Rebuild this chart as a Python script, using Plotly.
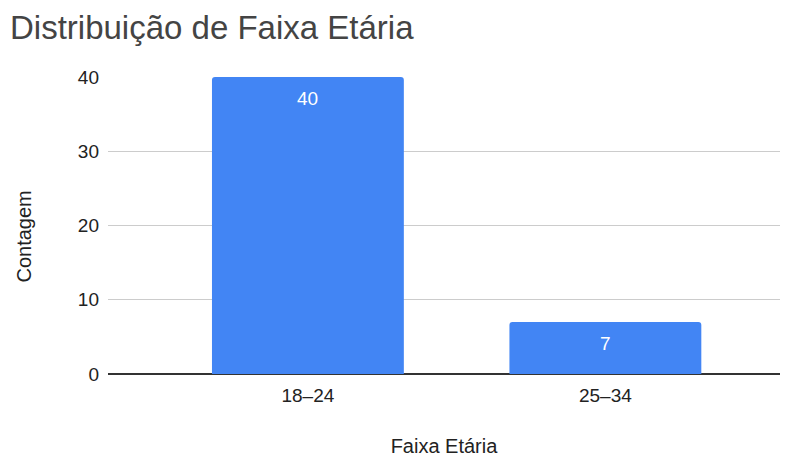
import plotly.graph_objects as go

categories = ["18–24", "25–34"]
counts = [40, 7]
y_ticks = [0, 10, 20, 30, 40]

FONT = "Liberation Sans, Arial"

fig = go.Figure(go.Bar(
    x=categories, y=counts,
    marker=dict(color="#4285F4", cornerradius=3, line=dict(width=0)),
    width=0.645,
    hoverinfo="skip",
))

for c, v in zip(categories, counts):
    fig.add_annotation(x=c, y=v, text=str(v), showarrow=False,
                       yanchor="middle", yshift=-21,
                       font=dict(color="white", size=19, family=FONT))

# y-axis title placed as annotation to match vertical offset
fig.add_annotation(text="Contagem", xref="paper", yref="paper", x=0, y=0.5,
                   xanchor="center", yanchor="middle", textangle=-90,
                   xshift=-85, yshift=-11, showarrow=False,
                   font=dict(size=20, color="#222222", family=FONT))

fig.update_layout(
    width=793, height=457,
    margin=dict(l=108, r=13, t=77, b=83),
    paper_bgcolor="white", plot_bgcolor="white",
    font=dict(family=FONT, color="#222222", size=19),
    title=dict(text="Distribuição de Faixa Etária", x=10 / 793, xanchor="left",
               y=0.965, yanchor="top",
               font=dict(size=33, color="#444444", family=FONT)),
    showlegend=False,
)
fig.update_xaxes(
    type="category", range=[-0.672, 1.587], automargin=False,
    title=dict(text="Faixa Etária", font=dict(size=20, color="#222222"), standoff=38),
    showgrid=False, showline=False, ticks="", tickfont=dict(size=19, color="#222222"),
    ticklabelstandoff=8,
)
fig.update_yaxes(
    range=[0, 40], tickvals=y_ticks, showgrid=True, gridcolor="#cccccc", gridwidth=1,
    automargin=False,
    zeroline=True, zerolinecolor="#333333", zerolinewidth=1.5,
    tickfont=dict(size=19, color="#222222"), ticks="", ticklabelstandoff=8,
)

fig.write_html("out.html", config={"displayModeBar": False},
               post_script="document.body.style.margin='0px';")
